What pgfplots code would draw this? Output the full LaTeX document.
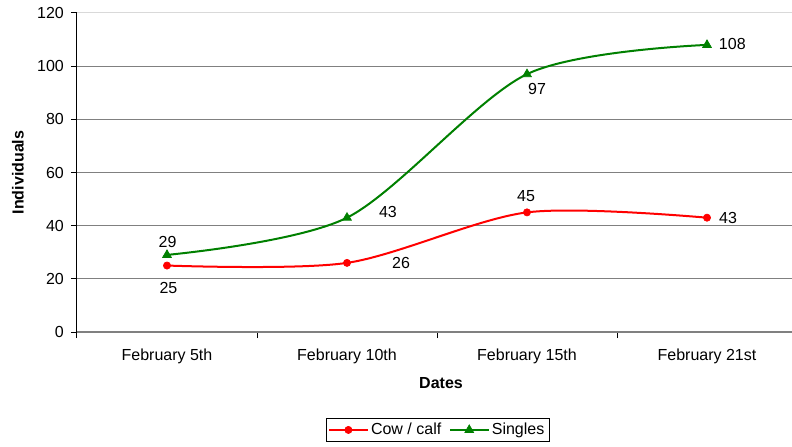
\documentclass[border=0pt]{standalone}
\usepackage{pgfplots}
\pgfplotsset{compat=1.18}
\usepackage{fontspec}
\setmainfont{Liberation Sans}
\definecolor{cowred}{RGB}{255,0,0}
\definecolor{singgreen}{RGB}{0,128,0}
\definecolor{gridgray}{RGB}{128,128,128}
\begin{document}
\fontsize{12pt}{14pt}\selectfont
\begin{tikzpicture}
\useasboundingbox (0,0) rectangle (594pt,334.5pt);
\begin{axis}[
  at={(57.75pt,85.5pt)}, anchor=south west,
  scale only axis, width=540pt, height=239.25pt,
  xmin=-0.5, xmax=3.5, ymin=0, ymax=120,
  /pgf/number format/assume math mode=true,
  xtick={0,1,2,3},
  xticklabels={February 5th, February 10th, February 15th, February 21st},
  minor xtick={-0.5,0.5,1.5,2.5,3.5},
  major x tick style={draw=none},
  minor x tick style={black, line width=0.75pt},
  ytick={0,20,...,100},
  extra y ticks={120},
  extra y tick style={grid style={gray!30, line width=0.75pt}},
  ytick style={black, line width=0.75pt},
  tick align=outside,
  major tick length=4.5pt, minor tick length=4.5pt,
  ymajorgrids,
  grid style={gridgray, line width=0.9pt},
  axis x line*=bottom, axis y line*=left,
  x axis line style={gridgray, line width=0.9pt},
  y axis line style={black, line width=0.75pt},
  ticklabel style={font=\fontsize{12pt}{14pt}\selectfont},
  xticklabel style={anchor=north, yshift=-4pt},
  yticklabel style={anchor=east, xshift=-1.2pt},
  xlabel={\bfseries Dates},
  ylabel={\bfseries Individuals},
  xlabel style={at={(axis description cs:0.5056,-0.160)}, anchor=center, font=\fontsize{12pt}{14pt}\selectfont},
  ylabel style={at={(axis description cs:-0.082,0.5)}, anchor=center, font=\fontsize{12pt}{14pt}\selectfont},
  legend columns=2,
  legend style={at={(axis description cs:0.501,-0.307)}, anchor=center, draw=black, line width=0.75pt,
    font=\fontsize{12pt}{14pt}\selectfont, inner sep=1.5pt,
    /tikz/every even column/.append style={column sep=4pt}},
  legend image code/.code={\draw[mark repeat=2,mark phase=2] plot coordinates {(0cm,0cm) (0.5cm,0cm) (1cm,0cm)};},
]
\addplot[cowred, line width=1.5pt, smooth, tension=0.5, mark=*, mark size=2.7pt, mark options={solid, fill=cowred, line width=0.5pt}]
  coordinates {(0,25) (1,26) (2,45) (3,43)};
\addlegendentry{Cow / calf}
\addplot[singgreen, line width=1.5pt, smooth, tension=0.5, mark=triangle*, mark size=3.8pt, mark options={solid, fill=singgreen, line width=0.5pt}]
  coordinates {(0,29) (1,43) (2,97) (3,108)};
\addlegendentry{Singles}
% data labels
\node[inner sep=0pt, anchor=center] at (axis cs:0,25) [xshift=1.1pt, yshift=-16.5pt] {25};
\node[inner sep=0pt, anchor=center] at (axis cs:1,26) [xshift=40.5pt, yshift=0pt] {26};
\node[inner sep=0pt, anchor=center] at (axis cs:2,45) [xshift=-0.7pt, yshift=12pt] {45};
\node[inner sep=0pt, anchor=center] at (axis cs:3,43) [xshift=15.75pt, yshift=0pt] {43};
\node[inner sep=0pt, anchor=center] at (axis cs:0,29) [xshift=0.4pt, yshift=10pt] {29};
\node[inner sep=0pt, anchor=center] at (axis cs:1,43) [xshift=30.75pt, yshift=4.3pt] {43};
\node[inner sep=0pt, anchor=center] at (axis cs:2,97) [xshift=7.5pt, yshift=-11.5pt] {97};
\node[inner sep=0pt, anchor=center] at (axis cs:3,108) [xshift=19pt, yshift=0.5pt] {108};
\end{axis}
\end{tikzpicture}
\end{document}
